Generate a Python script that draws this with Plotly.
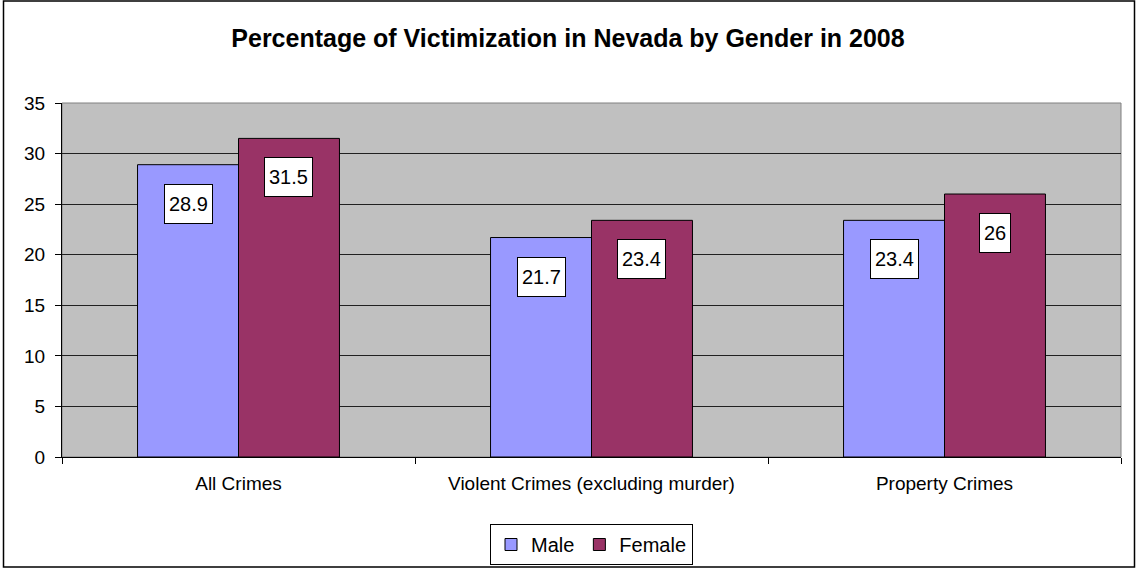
import plotly.graph_objects as go

categories = ["All Crimes", "Violent Crimes (excluding murder)", "Property Crimes"]
male = [28.9, 21.7, 23.4]
female = [31.5, 23.4, 26]
series_names = ["Male", "Female"]
title_text = "Percentage of Victimization in Nevada by Gender in 2008"
y_ticks = [0, 5, 10, 15, 20, 25, 30, 35]

FONT = "Arial, 'Liberation Sans', sans-serif"
W, H = 1136, 569
ML, MR, MT, MB = 62, 15, 103, 112
PW, PH = W - ML - MR, H - MT - MB

fig = go.Figure()
fig.add_trace(go.Bar(name=series_names[0], x=categories, y=male,
                     marker=dict(color="#9999FF", line=dict(color="black", width=1))))
fig.add_trace(go.Bar(name=series_names[1], x=categories, y=female,
                     marker=dict(color="#993366", line=dict(color="black", width=1))))

cat_w = PW / len(categories)
bargap = 0.428
bar_w = cat_w * (1 - bargap) / 2

annotations = []
for vals, sign in ((male, -1), (female, 1)):
    for c, v in zip(categories, vals):
        annotations.append(dict(
            x=c, y=v, xref="x", yref="y", text=str(v), showarrow=False,
            xshift=sign * bar_w / 2, yshift=-19, yanchor="top",
            font=dict(family=FONT, size=20, color="black"),
            bgcolor="white", bordercolor="black", borderwidth=1, borderpad=4,
            height=30))

shapes = [
    # plot-area frame
    dict(type="rect", xref="paper", yref="paper", x0=0, x1=1, y0=0, y1=1,
         line=dict(color="#808080", width=1), layer="below"),
    # outer chart border
    dict(type="rect", xref="paper", yref="paper",
         x0=(3.5 - ML) / PW, x1=(1134.5 - ML) / PW,
         y0=(H - MB - 567) / PH, y1=(H - MB - 1) / PH,
         line=dict(color="black", width=1.5)),
]

fig.update_layout(
    width=W, height=H,
    margin=dict(l=ML, r=MR, t=MT, b=MB, pad=0, autoexpand=False),
    paper_bgcolor="white", plot_bgcolor="#C0C0C0",
    barmode="group", bargap=bargap, bargroupgap=0,
    font=dict(family=FONT, color="black"),
    title=dict(text="<b>" + title_text + "</b>", x=0.5, xanchor="center",
               y=1 - 38 / H, yanchor="middle",
               font=dict(family=FONT, size=25, color="black")),
    xaxis=dict(showgrid=False, ticks="outside", tickson="boundaries", ticklen=6,
               tickcolor="black", showline=True, linecolor="black", linewidth=1,
               tickfont=dict(family=FONT, size=19, color="black"),
               ticklabelstandoff=9),
    yaxis=dict(range=[0, 35], tickvals=y_ticks, showgrid=True, gridcolor="#202020",
               gridwidth=1, ticks="outside", ticklen=6, tickcolor="black",
               showline=True, linecolor="black", linewidth=1, zeroline=False,
               tickfont=dict(family=FONT, size=19, color="black"),
               ticklabelstandoff=6),
    legend=dict(orientation="h", x=0.5, xanchor="center",
                y=(H - MB - 524) / PH, yanchor="top",
                bgcolor="white", bordercolor="black", borderwidth=1,
                font=dict(family=FONT, size=20, color="black"),
                itemwidth=30, traceorder="normal"),
    annotations=annotations, shapes=shapes,
)

fig.write_html("out.html", config={"displayModeBar": False},
               post_script="document.body.style.margin='0px';document.body.style.overflow='hidden';")
